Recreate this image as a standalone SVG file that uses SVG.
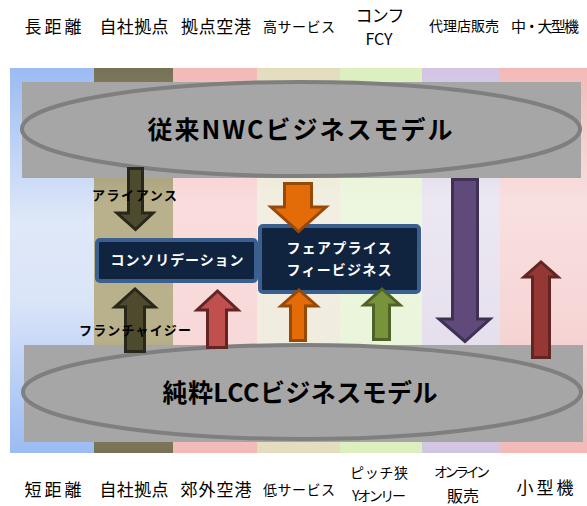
<svg xmlns="http://www.w3.org/2000/svg" width="587" height="506" viewBox="0 0 587 506">
<defs>
<linearGradient id="gBlue" x1="0" y1="0" x2="0" y2="1"><stop offset="0" stop-color="#9bbbf3"/><stop offset="0.4" stop-color="#dfe8f8"/><stop offset="0.6" stop-color="#dbe5f8"/><stop offset="1" stop-color="#9bbbf3"/></linearGradient>
<linearGradient id="gOlive" x1="0" y1="0" x2="0" y2="1"><stop offset="0" stop-color="#767055"/><stop offset="0.35" stop-color="#b8b18b"/><stop offset="0.7" stop-color="#b8b18b"/><stop offset="1" stop-color="#767055"/></linearGradient>
<linearGradient id="gPink" x1="0" y1="0" x2="0" y2="1"><stop offset="0" stop-color="#f2b9b7"/><stop offset="0.35" stop-color="#f9dcdc"/><stop offset="0.7" stop-color="#f8d9d9"/><stop offset="1" stop-color="#f2b9b7"/></linearGradient>
<linearGradient id="gBeige" x1="0" y1="0" x2="0" y2="1"><stop offset="0" stop-color="#e3dcbd"/><stop offset="0.35" stop-color="#f2efe2"/><stop offset="0.7" stop-color="#f0ede0"/><stop offset="1" stop-color="#e3dcbd"/></linearGradient>
<linearGradient id="gGreen" x1="0" y1="0" x2="0" y2="1"><stop offset="0" stop-color="#dcefbd"/><stop offset="0.35" stop-color="#edf6df"/><stop offset="0.7" stop-color="#ebf5dc"/><stop offset="1" stop-color="#dcefbd"/></linearGradient>
<linearGradient id="gPurple" x1="0" y1="0" x2="0" y2="1"><stop offset="0" stop-color="#d2c4e3"/><stop offset="0.35" stop-color="#ece8f2"/><stop offset="0.7" stop-color="#e6e0ee"/><stop offset="1" stop-color="#d2c4e3"/></linearGradient>
<linearGradient id="gPink2" x1="0" y1="0" x2="0" y2="1"><stop offset="0" stop-color="#f2b9b7"/><stop offset="0.35" stop-color="#f9e0e0"/><stop offset="0.7" stop-color="#f6d4d4"/><stop offset="1" stop-color="#f2b9b7"/></linearGradient>
</defs>
<style>
.lbl{font-family:"Noto Sans CJK JP","Liberation Sans",sans-serif;fill:#000;text-anchor:middle}
.big{font-size:17px}
.sm{font-size:14px}
.band{fill:#a6a6a6}
.ell{fill:#a6a6a6;stroke:#7f7f7f;stroke-width:4}
.title{font-family:"Noto Sans CJK JP","Liberation Sans",sans-serif;font-weight:bold;font-size:25px;fill:#000;text-anchor:middle}
.box{fill:#10233f;stroke:#3b5f8e;stroke-width:4}
.boxt{font-family:"Noto Sans CJK JP","Liberation Sans",sans-serif;font-weight:bold;font-size:14px;fill:#fff;text-anchor:middle}
.alab{font-family:"Noto Sans CJK JP","Liberation Sans",sans-serif;font-weight:bold;font-size:13px;fill:#000;text-anchor:middle}
.arr{stroke-width:3;stroke-linejoin:miter}
</style>
<rect width="587" height="506" fill="#fff"/>
<g id="columns">
<rect x="10" y="68" width="84" height="385" fill="url(#gBlue)"/>
<rect x="94" y="68" width="79" height="385" fill="url(#gOlive)"/>
<rect x="173" y="68" width="84" height="385" fill="url(#gPink)"/>
<rect x="257" y="68" width="83" height="385" fill="url(#gBeige)"/>
<rect x="340" y="68" width="82" height="385" fill="url(#gGreen)"/>
<rect x="422" y="68" width="78" height="385" fill="url(#gPurple)"/>
<rect x="500" y="68" width="87" height="385" fill="url(#gPink2)"/>
</g>
<g id="top-labels">
<text class="lbl big" x="53" y="33" textLength="57">長距離</text>
<text class="lbl big" x="134" y="33" textLength="69">自社拠点</text>
<text class="lbl big" x="216" y="33" textLength="70">拠点空港</text>
<text class="lbl sm" x="299" y="32" textLength="72">高サービス</text>
<text class="lbl big" x="380" y="22" textLength="49">コンフ</text>
<text class="lbl" x="379" y="45" font-size="16" font-family="Liberation Sans, sans-serif">FCY</text>
<text class="lbl sm" x="464" y="31" textLength="70">代理店販売</text>
<text class="lbl" x="545" y="32" font-size="15" textLength="68">中・大型機</text>
</g>
<g id="bottom-labels">
<text class="lbl big" x="53" y="496" textLength="57">短距離</text>
<text class="lbl big" x="134" y="496" textLength="69">自社拠点</text>
<text class="lbl big" x="216" y="496" textLength="71">郊外空港</text>
<text class="lbl sm" x="299" y="495" textLength="72">低サービス</text>
<text class="lbl sm" x="379" y="478" textLength="58">ピッチ狭</text>
<text class="lbl sm" x="379" y="501" textLength="54">Yオンリー</text>
<text class="lbl sm" x="462" y="477" textLength="56">オンライン</text>
<text class="lbl" x="463" y="502" font-size="16">販売</text>
<text class="lbl big" x="545" y="494" textLength="57">小型機</text>
</g>
<g id="nwc-model">
<rect class="band" x="22" y="82" width="559" height="96"/>
<ellipse class="ell" cx="301" cy="129" rx="279" ry="47"/>
<text class="title" x="300" y="139" textLength="305">従来NWCビジネスモデル</text>
</g>
<g id="lcc-model">
<rect class="band" x="24" y="345" width="559" height="97"/>
<ellipse class="ell" cx="302" cy="392" rx="279" ry="47"/>
<text class="title" x="300" y="402" textLength="275">純粋LCCビジネスモデル</text>
</g>
<g id="consolidation">
<rect class="box" x="97" y="240" width="159" height="41" rx="3"/>
<text class="boxt" x="177" y="265" textLength="133">コンソリデーション</text>
</g>
<g id="fairprice">
<rect class="box" x="260" y="226" width="159" height="66" rx="3"/>
<text class="boxt" x="339" y="253" textLength="105">フェアプライス</text>
<text class="boxt" x="339" y="275" textLength="105">フィービジネス</text>
</g>
<g id="connectors">
<polygon class="arr" fill="#4d4a2e" stroke="#29271a" points="128.5,168.5 142.5,168.5 142.5,213 153,213 135.5,229.5 117,213 128.5,213"/>
<polygon class="arr" fill="#4d4a2e" stroke="#29271a" points="125.5,351.5 144.5,351.5 144.5,307 155,307 135,289 115,307 125.5,307"/>
<polygon class="arr" fill="#c0504d" stroke="#632523" points="207.5,347.5 226.5,347.5 226.5,310 238,310 217.5,291 197,310 207.5,310"/>
<polygon class="arr" fill="#e36c09" stroke="#984807" points="284.5,183.5 311.5,183.5 311.5,207 326,207 298.5,231.5 271,207 284.5,207"/>
<polygon class="arr" fill="#e36c09" stroke="#984807" points="290.5,340.5 305.5,340.5 305.5,306 317,306 299,290 281,306 290.5,306"/>
<polygon class="arr" fill="#77933c" stroke="#4f6228" points="373.5,339.5 389.5,339.5 389.5,305 400,305 382,289 364,305 373.5,305"/>
<polygon class="arr" fill="#604a7b" stroke="#3f3151" points="452.5,179.5 477.5,179.5 477.5,319 490,319 465,341.5 439,319 452.5,319"/>
<polygon class="arr" fill="#953735" stroke="#632523" points="532.5,357.5 549.5,357.5 549.5,277 558,277 541,262 524,277 532.5,277"/>
<text class="alab" x="134.5" y="200" textLength="85">アライアンス</text>
<text class="alab" x="135" y="335" textLength="112">フランチャイジー</text>
</g>
</svg>
